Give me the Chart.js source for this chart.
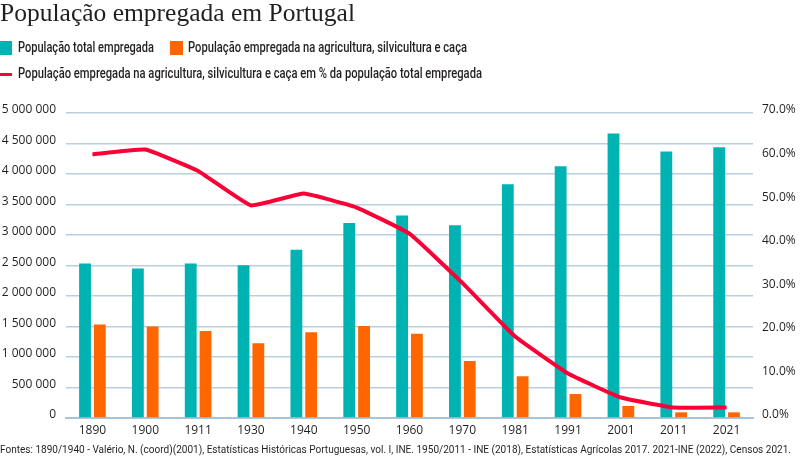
<!DOCTYPE html>
<html>
<head>
<meta charset="utf-8">
<script src="https://cdn.jsdelivr.net/npm/chart.js@4"></script>
<style>
  html, body { margin: 0; padding: 0; background: #fff; }
  #wrap { position: relative; width: 800px; height: 456px; overflow: hidden; }
  #chart { position: absolute; left: 0; top: 0; }
  .txt { position: absolute; white-space: nowrap; color: #231f20; transform-origin: 0 0; }
  #title { left: 0; top: -2px; font-family: "Liberation Serif", serif; font-size: 26px; }
  .leg { font-family: Roboto, sans-serif; font-size: 14.5px; font-weight: 500; line-height: 16px; }
  .sw { position: absolute; }
  #source { left: 0; top: 442px; font-family: Roboto, sans-serif; font-size: 11.5px; }
</style>
</head>
<body>
<div id="wrap">
  <canvas id="chart" width="800" height="456"></canvas>
  <div class="txt" id="title" data-w="355">População empregada em Portugal</div>
  <div class="sw" style="left:0;top:41px;width:12px;height:14px;background:#00b3b3"></div>
  <div class="txt leg" style="left:18px;top:40px" data-w="136">População total empregada</div>
  <div class="sw" style="left:170px;top:41px;width:13px;height:14px;background:#ff6600"></div>
  <div class="txt leg" style="left:188px;top:40px" data-w="279">População empregada na agricultura, silvicultura e caça</div>
  <div class="sw" style="left:0;top:73px;width:12px;height:3px;background:#fa0036"></div>
  <div class="txt leg" style="left:18px;top:66px" data-w="464">População empregada na agricultura, silvicultura e caça em % da população total empregada</div>
  <div class="txt" id="source" data-w="791">Fontes: 1890/1940 - Valério, N. (coord)(2001), Estatísticas Históricas Portuguesas, vol. I, INE. 1950/2011 - INE (2018), Estatísticas Agrícolas 2017. 2021-INE (2022), Censos 2021.</div>
</div>
<script>
const years = ["1890", "1900", "1911", "1930", "1940", "1950", "1960", "1970", "1981", "1991", "2001", "2011", "2021"];
const totalEmployed = [2531000, 2449000, 2531000, 2503000, 2760000, 3197000, 3318000, 3159000, 3831000, 4126000, 4662000, 4367000, 4438000];
const agriEmployed = [1531000, 1498000, 1426000, 1225000, 1405000, 1508000, 1383000, 934000, 684000, 393000, 197000, 93000, 93000];
const agriShare = [60.5, 61.6, 56.7, 48.8, 51.5, 48.3, 42.3, 31.0, 18.7, 10.2, 4.7, 2.4, 2.4];

// squeeze header/footer text to the widths of the original
document.querySelectorAll(".txt[data-w]").forEach((el) => {
  const w = el.getBoundingClientRect().width;
  el.style.transform = "scaleX(" + (+el.dataset.w / w) + ")";
});

const tickFont = { family: "'Open Sans', sans-serif", size: 12 };
const gridColor = "#b9cfdf";

new Chart(document.getElementById("chart"), {
  data: {
    labels: years,
    datasets: [
      {
        type: "line",
        label: "% agricultura",
        data: agriShare,
        yAxisID: "y1",
        borderColor: "#fa0036",
        borderWidth: 4,
        pointRadius: 0,
        tension: 0.1,
        order: 0,
      },
      {
        type: "bar",
        label: "População total empregada",
        data: totalEmployed,
        yAxisID: "y",
        backgroundColor: "#00b3b3",
        categoryPercentage: 0.56,
        barPercentage: 0.8,
        order: 1,
      },
      {
        type: "bar",
        label: "População empregada na agricultura, silvicultura e caça",
        data: agriEmployed,
        yAxisID: "y",
        backgroundColor: "#ff6600",
        categoryPercentage: 0.56,
        barPercentage: 0.8,
        order: 2,
      },
    ],
  },
  options: {
    responsive: false,
    animation: false,
    layout: { padding: { top: 113, left: 0, right: 0, bottom: 0 } },
    plugins: { legend: { display: false }, tooltip: { enabled: false } },
    scales: {
      x: {
        grid: { display: false, drawTicks: false },
        border: { color: "#a9c3d8", width: 2 },
        ticks: { font: tickFont, color: "#231f20", padding: 5, maxRotation: 0 },
        afterFit: (s) => { s.height = 38; },
      },
      y: {
        position: "left",
        min: 0,
        max: 5000000,
        grid: { color: gridColor, lineWidth: 1.5, drawTicks: false },
        border: { display: false },
        ticks: {
          stepSize: 500000,
          font: tickFont,
          color: "#231f20",
          padding: 10,
          labelOffset: -3,
          callback: (v) => String(v).replace(/\B(?=(\d{3})+(?!\d))/g, " "),
        },
        afterFit: (s) => { s.width = 66; },
      },
      y1: {
        position: "right",
        min: 0,
        max: 70,
        grid: { display: false, drawTicks: false },
        border: { display: false },
        ticks: {
          stepSize: 10,
          font: tickFont,
          color: "#231f20",
          padding: 9,
          labelOffset: -3,
          callback: (v) => v.toFixed(1) + "%",
        },
        afterFit: (s) => { s.width = 47; },
      },
    },
  },
});
</script>
</body>
</html>
